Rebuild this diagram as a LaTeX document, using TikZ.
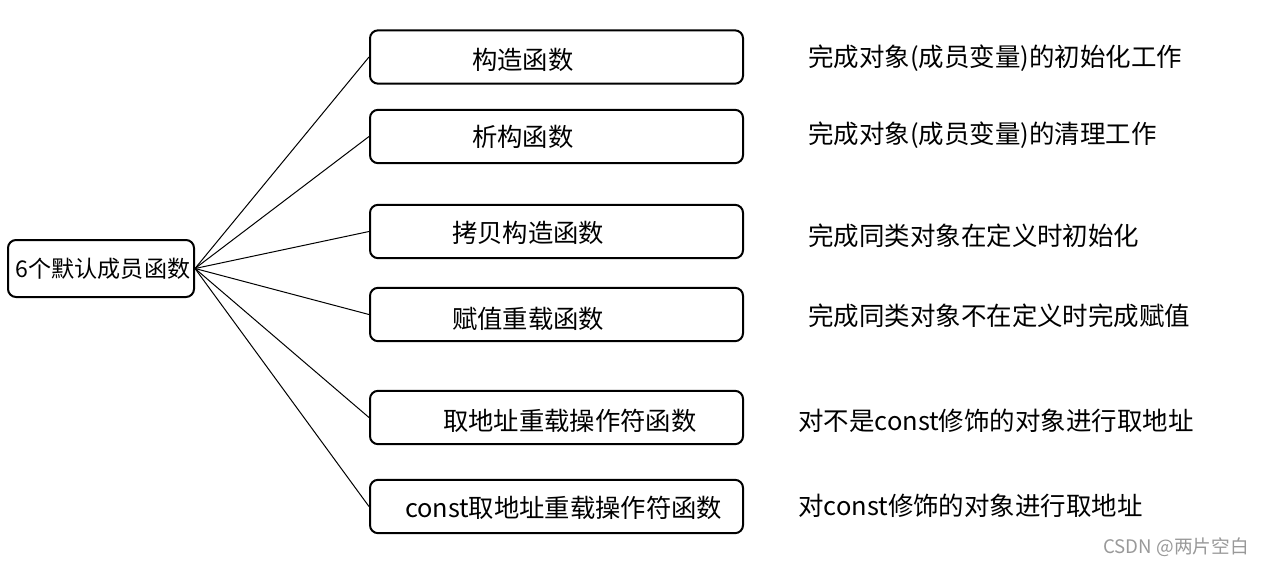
\documentclass[tikz,border=0pt]{standalone}
\usepackage{fontspec}
\setmainfont{Noto Sans CJK SC}
\newcommand{\lowertext}[2]{\raisebox{-#1}[\height][\depth]{#2}}
\begin{document}
\begin{tikzpicture}[x=0.75pt,y=-0.75pt,
  box/.style={draw=black, line width=1.5pt, rounded corners=6pt, inner sep=0pt,
    text width=279.75pt, minimum height=40pt, align=left, font=\fontsize{19}{22}\selectfont},
  rootbox/.style={draw=black, line width=1.5pt, rounded corners=6pt, inner sep=0pt,
    minimum width=139.5pt, minimum height=42.75pt, align=center, font=\fontsize{17.3}{20}\selectfont},
  desc/.style={anchor=west, inner sep=0pt, font=\fontsize{19.1}{22}\selectfont},
  conn/.style={draw=black, line width=0.75pt}]
\useasboundingbox (0,0) rectangle (1262,565);
\node[rootbox] (root) at (101,268.5) {\hspace*{3pt}6个默认成员函数};
\node[box] (b1) at (556.5,57) {\hspace*{76.5pt}\lowertext{2pt}{构造函数}};
\node[box] (b2) at (556.5,136.5) {\hspace*{76.5pt}\lowertext{0.5pt}{析构函数}};
\node[box] (b3) at (556.5,231.5) {\hspace*{61.5pt}\lowertext{1pt}{拷贝构造函数}};
\node[box] (b4) at (556.5,314.5) {\hspace*{61.5pt}\lowertext{3pt}{赋值重载函数}};
\node[box] (b5) at (556.5,417.5) {\hspace*{54.75pt}\lowertext{2.5pt}{取地址重载操作符函数}};
\node[box] (b6) at (556.5,506.5) {\hspace*{26.25pt}\lowertext{1pt}{const取地址重载操作符函数}};
\foreach \i in {1,...,6} {\draw[conn] (root.east) -- (b\i.west);}
\node[desc] (d1) at (808,58) {完成对象(成员变量)的初始化工作};
\node[desc] (d2) at (808,135) {完成对象(成员变量)的清理工作};
\node[desc] (d3) at (808,236) {完成同类对象在定义时初始化};
\node[desc] (d4) at (808,316) {完成同类对象不在定义时完成赋值};
\node[desc] (d5) at (798,421) {对不是const修饰的对象进行取地址};
\node[desc] (d6) at (798,506) {对const修饰的对象进行取地址};
\node[anchor=east, inner sep=0pt, text=black!40, font=\fontsize{14}{16}\selectfont] (wm) at (1249,547) {CSDN @两片空白};
\end{tikzpicture}
\end{document}
